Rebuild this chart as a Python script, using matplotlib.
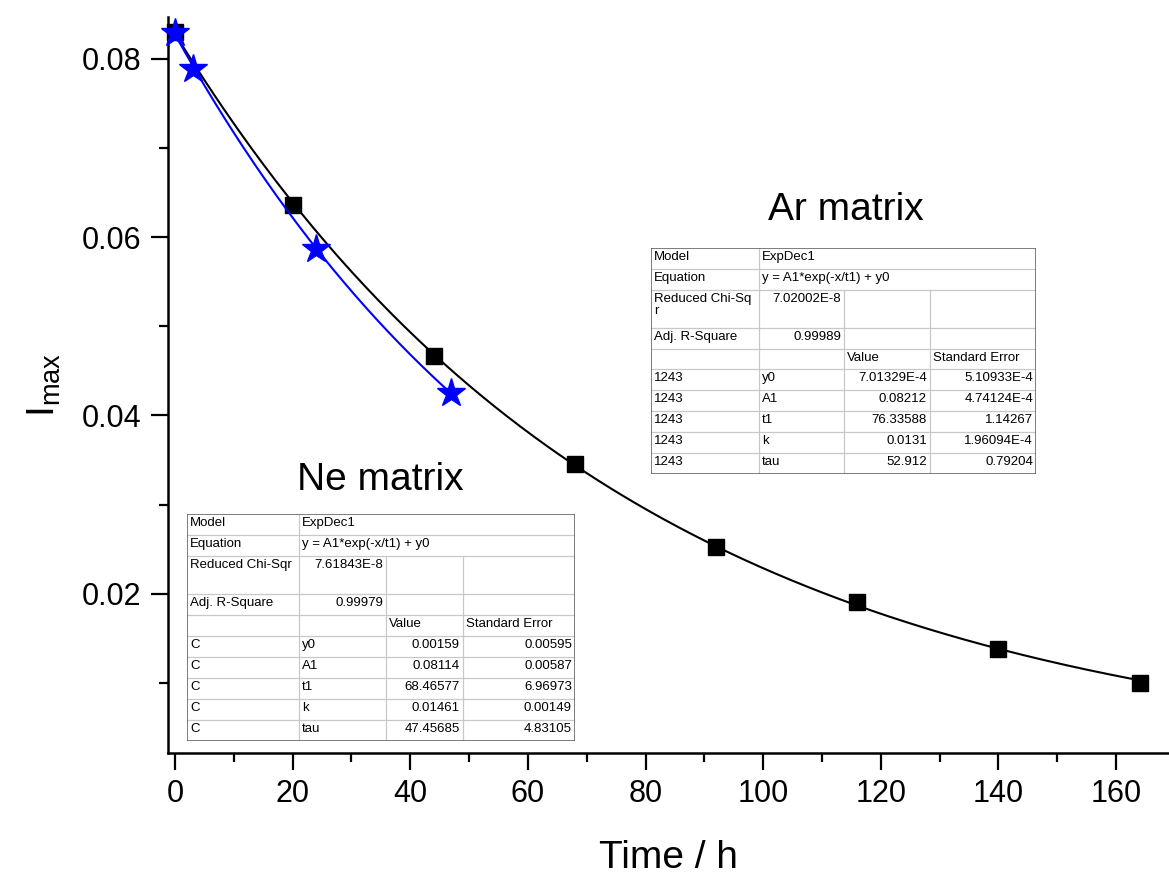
import numpy as np
import matplotlib
matplotlib.use('Agg')
import matplotlib.pyplot as plt
from matplotlib.ticker import MultipleLocator, FormatStrFormatter

plt.rcParams['font.family'] = ['Liberation Sans', 'DejaVu Sans']
plt.rcParams['mathtext.default'] = 'regular'

# Ar matrix data (black squares)
ar_time = [0, 20, 44, 68, 92, 116, 140, 164]
ar_imax = [0.0830, 0.0636, 0.0467, 0.0345, 0.0252, 0.0191, 0.0138, 0.0100]

# Ne matrix data (blue stars)
ne_time = [0, 3, 24, 47]
ne_imax = [0.0829, 0.0789, 0.0587, 0.0425]

# ExpDec1 fit parameters (y0, A1, t1) as printed in the tables
ar_fit = (7.01329e-4, 0.08212, 76.33588)
ne_fit = (0.00159, 0.08114, 68.46577)

# fit report tables
ar_table = [
    ['Model', 'ExpDec1'],
    ['Equation', 'y = A1*exp(-x/t1) + y0'],
    ['Reduced Chi-Sq\nr', '7.02002E-8', '', ''],
    ['Adj. R-Square', '0.99989', '', ''],
    ['', '', 'Value', 'Standard Error'],
    ['1243', 'y0', '7.01329E-4', '5.10933E-4'],
    ['1243', 'A1', '0.08212', '4.74124E-4'],
    ['1243', 't1', '76.33588', '1.14267'],
    ['1243', 'k', '0.0131', '1.96094E-4'],
    ['1243', 'tau', '52.912', '0.79204'],
]
ne_table = [
    ['Model', 'ExpDec1'],
    ['Equation', 'y = A1*exp(-x/t1) + y0'],
    ['Reduced Chi-Sqr', '7.61843E-8', '', ''],
    ['Adj. R-Square', '0.99979', '', ''],
    ['', '', 'Value', 'Standard Error'],
    ['C', 'y0', '0.00159', '0.00595'],
    ['C', 'A1', '0.08114', '0.00587'],
    ['C', 't1', '68.46577', '6.96973'],
    ['C', 'k', '0.01461', '0.00149'],
    ['C', 'tau', '47.45685', '4.83105'],
]

W, H = 1169, 875
fig = plt.figure(figsize=(W / 100, H / 100), dpi=100)
ax = fig.add_axes([168 / W, 1 - 753 / H, 1 - 168 / W, (753 - 17) / H])


def expdec(x, p):
    y0, a1, t1 = p
    return a1 * np.exp(-x / t1) + y0


# fit curves + data
xa = np.linspace(ar_time[0], ar_time[-1], 300)
ax.plot(xa, expdec(xa, ar_fit), color='black', lw=1.5, zorder=2)
ax.plot(ar_time, ar_imax, ls='none', marker='s', ms=11.5, color='black',
        zorder=3, clip_on=False)
xn = np.linspace(ne_time[0], ne_time[-1], 200)
ax.plot(xn, expdec(xn, ne_fit), color='blue', lw=1.5, zorder=4)
ax.plot(ne_time, ne_imax, ls='none', marker='*', ms=21, color='blue',
        zorder=5, clip_on=False)

ax.set_xlim(-1.2, 169)
ax.set_ylim(0.00213, 0.0847)
ax.xaxis.set_major_locator(MultipleLocator(20))
ax.xaxis.set_minor_locator(MultipleLocator(10))
ax.yaxis.set_major_locator(MultipleLocator(0.02))
ax.yaxis.set_minor_locator(MultipleLocator(0.01))
ax.yaxis.set_major_formatter(FormatStrFormatter('%.2f'))
for s in ['top', 'right']:
    ax.spines[s].set_visible(False)
for s in ['left', 'bottom']:
    ax.spines[s].set_linewidth(1.8)
ax.tick_params(which='major', direction='out', length=12, width=1.6,
               labelsize=22, pad=7)
ax.tick_params(which='minor', direction='out', length=6.5, width=1.6)
ax.set_xlabel('Time / h', fontsize=28, labelpad=22)
ax.set_ylabel('I$_{max}$', fontsize=28, labelpad=14)

fig.text(846 / W, 1 - 210 / H, 'Ar matrix', fontsize=28, ha='center', va='center')
fig.text(380 / W, 1 - 480 / H, 'Ne matrix', fontsize=28, ha='center', va='center')


def is_num(s):
    try:
        float(s)
        return True
    except ValueError:
        return False


def draw_table(left, top, col_w, rows, total_h):
    rel_h = [21, 21, 38, 21, 21, 21, 21, 21, 21, 21]
    scale = total_h / sum(rel_h)
    row_h = [r * scale for r in rel_h]
    width = sum(col_w)
    tax = fig.add_axes([left / W, 1 - (top + total_h) / H, width / W, total_h / H])
    tax.set_xlim(0, width)
    tax.set_ylim(total_h, 0)
    tax.axis('off')
    tax.add_patch(plt.Rectangle((0, 0), width, total_h, facecolor='white',
                                edgecolor='none', zorder=0))
    col_x = np.concatenate([[0], np.cumsum(col_w)])
    row_y = np.concatenate([[0], np.cumsum(row_h)])
    inner = '#c8c8c8'
    # horizontal lines
    for y in row_y[1:-1]:
        tax.plot([0, width], [y, y], color=inner, lw=0.9)
    # vertical lines
    tax.plot([col_x[1], col_x[1]], [0, total_h], color=inner, lw=0.9)
    for cx in col_x[2:-1]:
        tax.plot([cx, cx], [row_y[2], total_h], color=inner, lw=0.9)
    tax.add_patch(plt.Rectangle((0, 0), width, total_h, facecolor='none',
                                edgecolor='#5a5a5a', lw=1.1, zorder=5))
    for i, row in enumerate(rows):
        for j, txt in enumerate(row):
            if not txt:
                continue
            y = row_y[i] + 3
            if j >= 1 and is_num(txt):
                right = col_x[j + 1] if len(row) == 4 else col_x[-1]
                tax.text(right - 3, y, txt, ha='right', va='top', fontsize=9.5,
                         linespacing=1.0)
            else:
                tax.text(col_x[j] + 3, y, txt, ha='left', va='top', fontsize=9.5,
                         linespacing=1.0)


draw_table(651, 248, [108, 85, 86, 106], ar_table, 226)
draw_table(187, 514, [112, 87, 77, 112], ne_table, 227)

fig.savefig('out.png', dpi=100)
